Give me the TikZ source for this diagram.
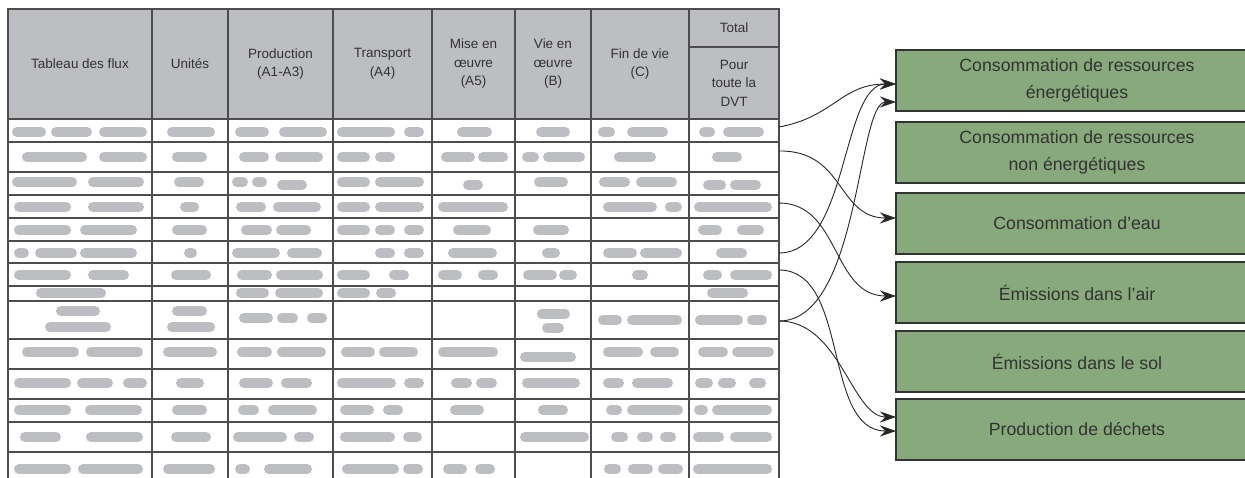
\documentclass[tikz,border=0pt]{standalone}
\usepackage{fontspec}
\setmainfont{Liberation Sans}
\usepackage{xcolor}
\usepackage{tikz}
\usetikzlibrary{arrows.meta, positioning}

\definecolor{gridc}{HTML}{4D4D4D}
\definecolor{pillc}{HTML}{BDBEC1}
\definecolor{resc}{HTML}{87A97B}
\definecolor{txtc}{HTML}{333333}

\begin{document}
\begin{tikzpicture}[
  x=1pt, y=-1pt,
  hcell/.style={rectangle, draw=gridc, line width=1.3pt, fill=pillc,
                anchor=north west, inner sep=0pt, outer sep=0pt, align=center, text=txtc,
                minimum height=110pt, font=\fontsize{13.5}{18.5}\selectfont},
  res/.style={rectangle, draw=black!80, line width=1.4pt, fill=resc,
              anchor=north west, minimum width=362pt, minimum height=61pt,
              inner sep=0pt, outer sep=0pt, align=center, text=txtc,
              font=\fontsize{17.7}{27}\selectfont},
  grid/.style={draw=gridc, line width=1.3pt},
  pill/.style={draw=pillc, line width=10pt, line cap=round},
  link/.style={-{Stealth[length=16pt, width=11pt]}, line width=0.9pt, black!85}
]
\clip (0,0) rectangle (1245,478);

% Header row
\node[hcell, minimum width=144pt] (hflux)  at (8,9)   {Tableau des flux};
\node[hcell, minimum width=76pt]  (hunit)  at (152,9) {Unités};
\node[hcell, minimum width=105pt] (hprod)  at (228,9) {Production\\(A1-A3)};
\node[hcell, minimum width=99pt]  (htrans) at (333,9) {Transport\\(A4)};
\node[hcell, minimum width=83pt]  (hmise)  at (432,9) {Mise en\\œuvre\\(A5)};
\node[hcell, minimum width=76pt]  (hvie)   at (515,9) {Vie en\\œuvre\\(B)};
\node[hcell, minimum width=98pt]  (hfin)   at (591,9) {Fin de vie\\(C)};
\node[hcell, minimum width=90pt, minimum height=38pt] (htot) at (hfin.north east) {Total};
\node[hcell, minimum width=90pt, minimum height=72pt] (hdvt) at (htot.south west) {Pour\\toute la\\DVT};

% Body grid
\foreach \yy in {142,172,195,218,241,263,286,301,339,369,399,422,452}
  \draw[grid] (8,\yy) -- (779,\yy);
\foreach \xx in {8,152,228,333,432,515,591,689,779}
  \draw[grid] (\xx,119) -- (\xx,478);

% Placeholder values (grey pills)
\foreach \yc/\row in {
  132/{12/46,51/92,99/147,167/215,235/269,279/327,337/395,404/424,457/492,536/570,598/615,627/668,699/715,723/764},
  157/{22/87,99/147,172/207,239/269,275/323,337/370,375/395,441/475,478/508,522/539,543/585,614/656,712/742},
  182/{12/77,88/144,174/204,232/248,252/267,337/370,375/424,534/568,599/630,636/677},
  185/{277/307,463/483,703/726,730/761},
  207/{14/71,88/144,180/199,236/266,273/321,337/370,375/424,438/508,603/657,665/682,694/772},
  230/{14/71,80/137,172/207,241/272,276/311,337/370,375/395,404/424,453/491,533/569,698/722,737/764},
  253/{14/29,35/77,80/137,184/197,232/280,287/322,375/395,404/424,448/497,542/560,603/637,640/682,716/747},
  275/{14/71,88/129,171/211,237/272,276/323,337/370,389/409,438/462,478/498,523/557,559/577,632/648,703/722,730/772},
  293/{36/106,236/269,275/323,337/370,376/396,707/748},
  311/{56/100,172/207},
  327/{45/111,167/215},
  318/{239/273,277/298,307/327},
  314/{537/570},
  328/{542/564},
  320/{598/622,627/682,695/743,747/767},
  352/{22/79,86/143,163/217,237/272,277/326,341/375,379/418,438/498,603/643,650/679,698/728,732/774},
  357/{520/576},
  383/{14/71,77/113,123/147,176/204,239/273,281/312,337/396,404/424,451/472,476/497,522/580,603/624,632/673,695/713,718/736,749/766},
  410/{14/71,85/142,172/207,238/259,268/317,340/374,383/403,450/484,538/568,606/622,627/683,694/708,712/772},
  437/{20/61,86/143,171/211,233/287,294/314,340/395,403/422,520/589,611/628,637/653,660/676,693/724,730/772},
  469/{14/71,78/143,163/215,235/250,264/312,342/399,403/423,443/467,475/495,604/621,628/653,658/683,693/772}}
  \foreach \xa/\xb in \row
    \draw[pill] (\xa+5,\yc) -- (\xb-5,\yc);

% Impact categories
\node[res] (ener)    at (896,50)  {Consommation de ressources\\énergétiques};
\node[res] (nonener) at (896,122) {Consommation de ressources\\non énergétiques};
\node[res] (eau)     at (896,193) {Consommation d’eau};
\node[res] (air)     at (896,262) {Émissions dans l’air};
\node[res] (sol)     at (896,331) {Émissions dans le sol};
\node[res] (dech)    at (896,399) {Production de déchets};

% Row ends
\coordinate (r1) at (779,127);
\coordinate (r2) at (779,151);
\coordinate (r4) at (779,203);
\coordinate (r6) at (779,253);
\coordinate (r7) at (779,270);
\coordinate (r9) at (779,321);

% Links
\draw[link] (r1) .. controls +(55,-10) and +(-55,0) .. ([yshift=-3.5pt]ener.west);
\draw[link] (r2) .. controls +(66,-1) and +(-59,0) .. ([yshift=5.5pt]eau.west);
\draw[link] (r4) .. controls +(61,0) and +(-64,0) .. ([yshift=-3.5pt]air.west);
\draw[link] (r6) .. controls +(70,0) and +(-55,0) .. ([yshift=-3.5pt]ener.west);
\draw[link] (r7) .. controls +(71,0) and +(-74,0) .. ([yshift=-1.5pt]dech.west);
\draw[link] (r9) .. controls +(81,0) and +(-39,0) .. ([yshift=-21.5pt]ener.west);
\draw[link] (r9) .. controls +(61,0) and +(-44,0) .. ([yshift=12.5pt]dech.west);

\end{tikzpicture}
\end{document}
